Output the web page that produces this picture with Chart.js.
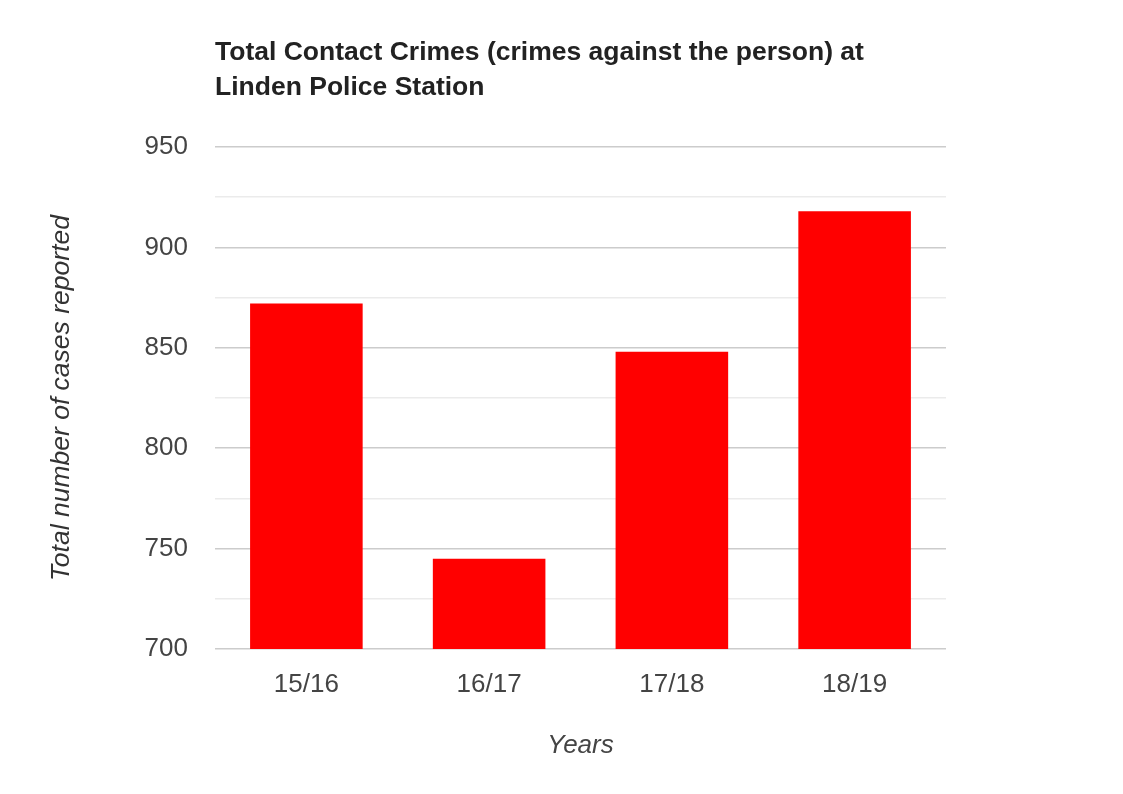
<!DOCTYPE html>
<html>
<head>
<meta charset="utf-8">
<script src="https://cdn.jsdelivr.net/npm/chart.js@4"></script>
<style>
  html, body { margin: 0; padding: 0; background: #fff; }
  #chart { display: block; }
</style>
</head>
<body>
<canvas id="chart" width="1123" height="794"></canvas>
<script>
const years = ['15/16', '16/17', '17/18', '18/19'];
const cases = [872, 745, 848, 918];
const titleLines = ['Total Contact Crimes (crimes against the person) at', 'Linden Police Station'];
const yMin = 700;
const yMax = 950;
const yStep = 25;

const FONT = "Arial, 'Liberation Sans', sans-serif";

// title sits on the plot's left edge, like the original
const titlePlugin = {
  id: 'leftTitle',
  afterDraw(chart) {
    const { ctx, chartArea } = chart;
    ctx.save();
    ctx.font = 'bold 26.5px ' + FONT;
    ctx.fillStyle = '#222';
    ctx.textBaseline = 'alphabetic';
    ctx.textAlign = 'left';
    titleLines.forEach((line, i) => {
      ctx.fillText(line, chartArea.left, 60 + i * 35);
    });
    ctx.restore();
  },
};

function draw() {
  new Chart(document.getElementById('chart'), {
    type: 'bar',
    data: {
      labels: years,
      datasets: [{
        label: 'Total contact crimes',
        data: cases,
        backgroundColor: '#ff0000',
        borderWidth: 0,
        barPercentage: 0.616,
        categoryPercentage: 1,
      }],
    },
    options: {
      responsive: false,
      animation: false,
      devicePixelRatio: 1,
      layout: { padding: { left: 40, right: 177, top: 147, bottom: 0 } },
      plugins: {
        legend: { display: false },
        tooltip: { enabled: false },
        title: { display: false },
      },
      scales: {
        x: {
          grid: { display: false },
          border: { display: false },
          ticks: { color: '#444', font: { family: FONT, size: 26 }, padding: 12 },
          title: {
            display: true,
            text: 'Years',
            color: '#444',
            font: { family: FONT, size: 26, style: 'italic' },
            padding: { top: 0, bottom: 33 },
          },
          afterFit(scale) { scale.height = 145; },
        },
        y: {
          min: yMin,
          max: yMax,
          border: { display: false },
          grid: {
            drawTicks: false,
            lineWidth: 1.5,
            color: (c) => (c.tick && c.tick.value % 50 === 0 ? '#cccccc' : '#ebebeb'),
          },
          ticks: {
            stepSize: yStep,
            autoSkip: false,
            padding: 27,
            color: '#444',
            font: { family: FONT, size: 26 },
            callback: (v) => (v % 50 === 0 ? v : ''),
          },
          title: {
            display: true,
            text: 'Total number of cases reported',
            color: '#333',
            font: { family: FONT, size: 26.5, style: 'italic' },
            padding: { top: 6, bottom: 0 },
          },
          afterFit(scale) { scale.width = 175; },
        },
      },
    },
    plugins: [titlePlugin],
  });
}

if (document.fonts && document.fonts.load) {
  Promise.all([
    document.fonts.load('26px Arial'),
    document.fonts.load('bold 26px Arial'),
    document.fonts.load('italic 26px Arial'),
  ]).then(draw, draw);
} else {
  draw();
}
</script>
</body>
</html>
